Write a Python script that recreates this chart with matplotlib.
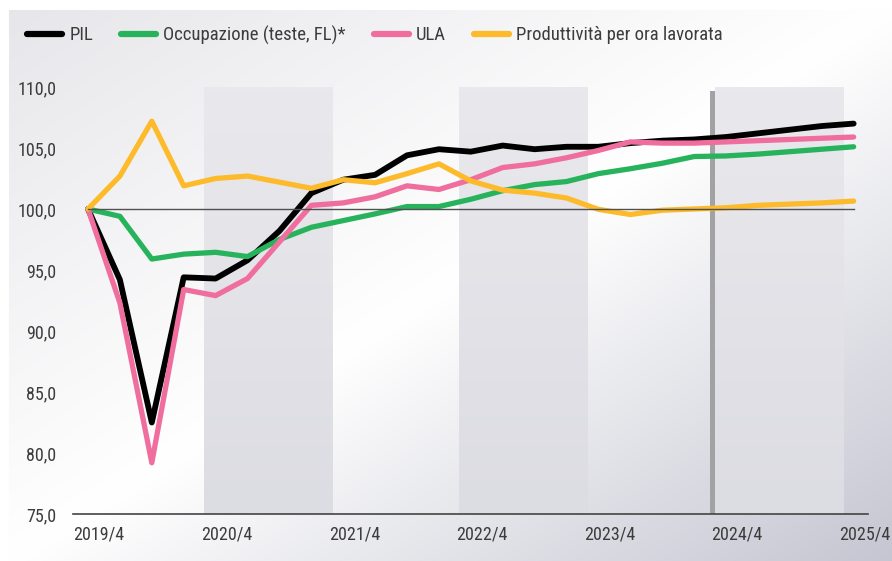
import numpy as np
import matplotlib
matplotlib.use("Agg")
import matplotlib.pyplot as plt
from matplotlib import font_manager as fm
from matplotlib.lines import Line2D
from matplotlib.colors import LinearSegmentedColormap

# ---------------- data ----------------
tick_labels = ["2019/4", "2020/4", "2021/4", "2022/4", "2023/4", "2024/4", "2025/4"]
series_names = ["PIL", "Occupazione (teste, FL)*", "ULA", "Produttività per ora lavorata"]

pil = [100.0, 94.2, 82.5, 94.4, 94.3, 95.8, 98.2, 101.3, 102.4, 102.8, 104.4, 104.9,
       104.7, 105.2, 104.9, 105.1, 105.1, 105.4, 105.6, 105.7, 105.9, 106.2, 106.5, 106.8, 107.0]
occupazione = [100.0, 99.4, 95.9, 96.3, 96.45, 96.1, 97.5, 98.5, 99.05, 99.6, 100.2, 100.2,
               100.8, 101.5, 102.0, 102.25, 102.9, 103.3, 103.75, 104.3, 104.35, 104.5, 104.7, 104.9, 105.1]
ula = [100.0, 92.3, 79.2, 93.4, 92.9, 94.3, 97.3, 100.3, 100.5, 101.0, 101.9, 101.6,
       102.4, 103.4, 103.7, 104.2, 104.8, 105.5, 105.4, 105.4, 105.5, 105.6, 105.7, 105.8, 105.9]
produttivita = [100.0, 102.7, 107.2, 101.9, 102.5, 102.7, 102.2, 101.7, 102.4, 102.15, 102.9, 103.7,
                102.3, 101.55, 101.3, 100.9, 99.97, 99.55, 99.9, 100.0, 100.1, 100.3, 100.4, 100.5, 100.65]

y_ticks = [75, 80, 85, 90, 95, 100, 105, 110]
baseline = 100.0

# ---------------- style ----------------
names = {f.name for f in fm.fontManager.ttflist}
if "Roboto Condensed" in names:
    FONT = "Roboto Condensed"
elif "Liberation Sans Narrow" in names:
    FONT = "Liberation Sans Narrow"
else:
    FONT = "Roboto"
plt.rcParams["font.family"] = [FONT, "DejaVu Sans"]

colors = ["#000000", "#27b35c", "#f06e9d", "#fdbb2b"]
widths = [4.2, 3.8, 3.8, 3.8]
TEXT = "#3c3c3c"

W, H = 892, 561
fig = plt.figure(figsize=(W / 100, H / 100), dpi=100)
fig.patch.set_facecolor("white")

# background gradient panel
bg = fig.add_axes([0, 0, 1, 1], zorder=-10)
bg.set_axis_off()
yy, xx = np.mgrid[0:H, 0:W]
t = ((xx - 9) / (W - 9) + (yy - 10) / (H - 10)) / 2.0
c0 = np.array([0.905, 0.905, 0.92])
c1 = np.array([1.0, 1.0, 1.0])
c2 = np.array([0.77, 0.775, 0.82])
tt = t[..., None]
img = np.where(tt < 0.5, c0 + (c1 - c0) * (tt / 0.5), c1 + (c2 - c1) * ((tt - 0.5) / 0.5))
img[:10, :, :] = 1.0
img[:, :9, :] = 1.0
bg.imshow(img, extent=(0, 1, 0, 1), aspect="auto", origin="upper")
bg.set_xlim(0, 1)
bg.set_ylim(0, 1)

# main axes
left, right, top, bottom = 73, 868, 87, 514
ax = fig.add_axes([left / W, 1 - bottom / H, (right - left) / W, (bottom - top) / H])
ax.patch.set_alpha(0)

n = len(pil)
x = np.arange(n)
XMIN, XMAX = -0.47, n - 1 + 0.45
YMIN, YMAX = 75, 110

# shaded bands (every other year)
band_cmap = LinearSegmentedColormap.from_list("band", ["#e9e9ed", "#dcdce3"])
band_grad = np.linspace(0, 1, 100)[:, None]
for k in range(3):
    x0 = 3.64 + 8 * k
    x1 = 7.68 + 8 * k
    ax.imshow(band_grad, cmap=band_cmap, extent=(x0, x1, YMIN, YMAX), aspect="auto",
              origin="upper", zorder=0)

# forecast separator
ax.axvline(19.56, ymin=0, ymax=(109.5 - YMIN) / (YMAX - YMIN), color="#a0a2a3", lw=3.6, zorder=1)

for vals, c, lw in zip([pil, occupazione, ula, produttivita], colors, widths):
    ax.plot(x, vals, color=c, lw=lw, solid_capstyle="round", solid_joinstyle="round", zorder=3)

ax.plot([x[0], x[-1]], [baseline, baseline], color="#505050", lw=1.0, zorder=4)

ax.set_xlim(XMIN, XMAX)
ax.set_ylim(YMIN, YMAX)
ax.set_yticks(y_ticks)
ax.set_yticklabels([f"{v:.1f}".replace(".", ",") for v in y_ticks])
ax.set_xticks([0.35 + 4 * i for i in range(len(tick_labels))])
ax.set_xticklabels(tick_labels)
ax.tick_params(axis="both", length=0, labelsize=13, labelcolor=TEXT)
ax.tick_params(axis="y", pad=12)
ax.tick_params(axis="x", pad=8)
for s in ["top", "right", "left"]:
    ax.spines[s].set_visible(False)
ax.spines["bottom"].set_color("#444444")
ax.spines["bottom"].set_linewidth(1.2)

handles = [Line2D([0], [0], color=c, lw=4.5, solid_capstyle="round") for c in colors]
fig.legend(handles, series_names, loc="center left", bbox_to_anchor=(27 / W, 1 - 35 / H),
           ncol=4, frameon=False, fontsize=13.5, handlelength=1.85, handletextpad=0.4,
           columnspacing=1.5, borderaxespad=0, borderpad=0, labelcolor=TEXT)

fig.savefig("out.png", dpi=100)
